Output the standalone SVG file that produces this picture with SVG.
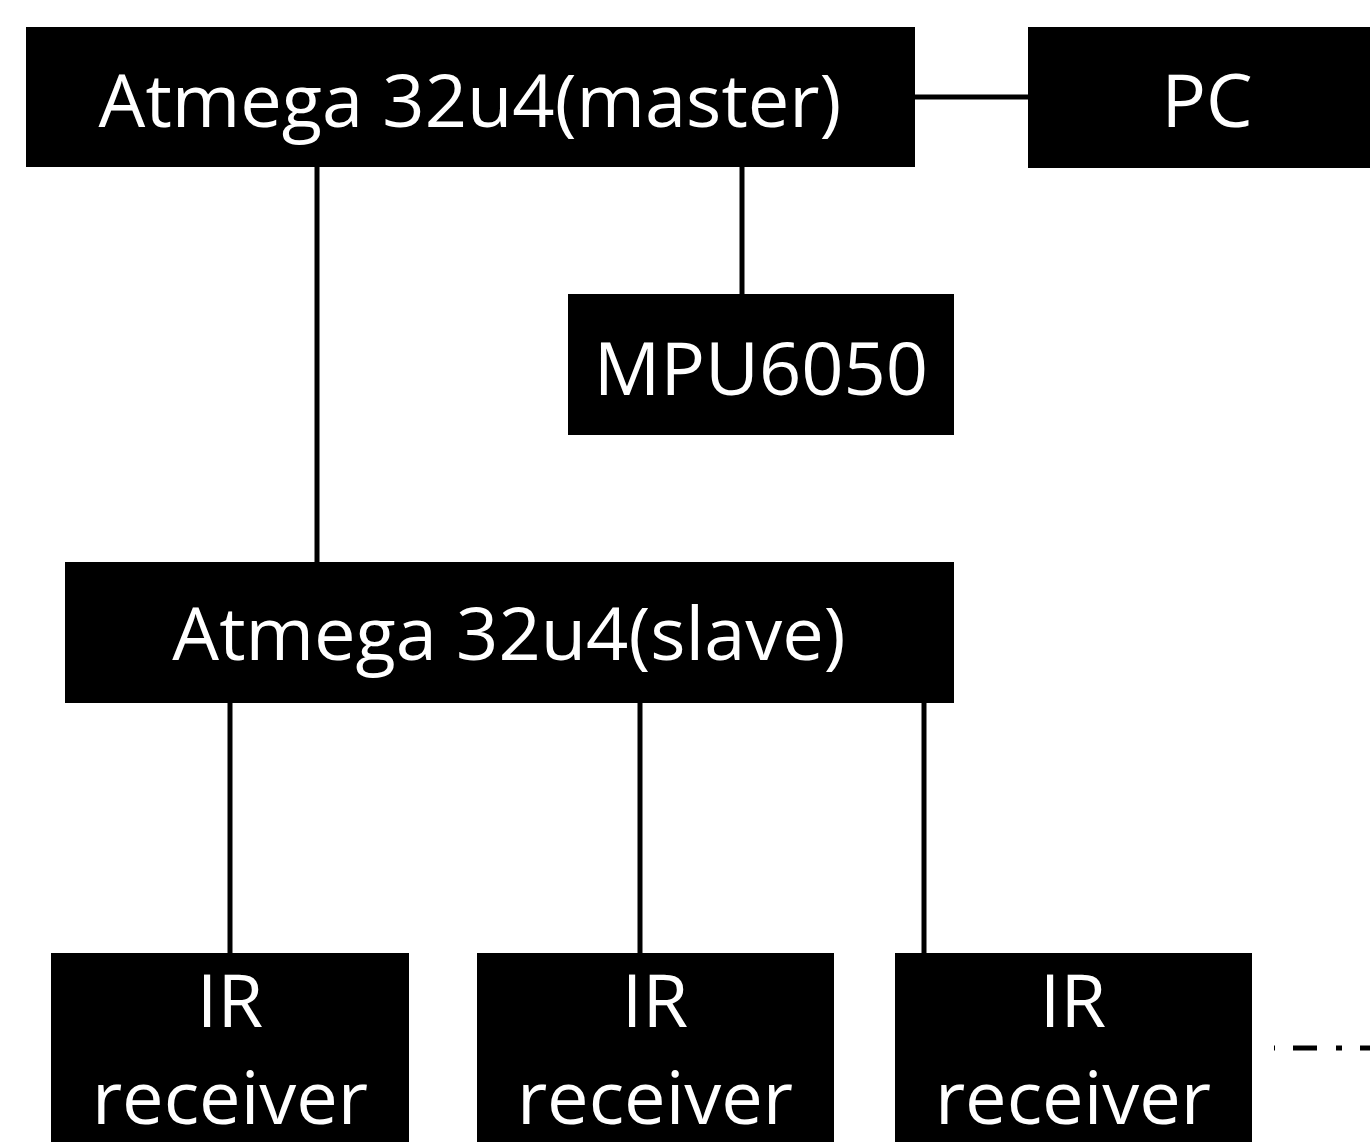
<svg xmlns="http://www.w3.org/2000/svg" width="1370" height="1143" viewBox="0 0 1370 1143">
<style>
.box{fill:#000}
.t{fill:#fff;font-family:"Open Sans","Noto Sans","Liberation Sans",sans-serif;font-size:74px;text-anchor:middle}
.c{stroke:#000;stroke-width:5;fill:none}
</style>
<rect width="1370" height="1143" fill="#fff"/>
<g id="connectors">
<line class="c" x1="915" y1="97" x2="1028" y2="97"/>
<line class="c" x1="742" y1="167" x2="742" y2="294"/>
<line class="c" x1="317" y1="167" x2="317" y2="562"/>
<line class="c" x1="230" y1="703" x2="230" y2="953"/>
<line class="c" x1="640" y1="703" x2="640" y2="953"/>
<line class="c" x1="924" y1="703" x2="924" y2="953"/>
<line class="c" x1="1274" y1="1048" x2="1370" y2="1048" stroke-dasharray="6 18 24 19" stroke-dashoffset="5"/>
</g>
<g id="master"><rect class="box" x="26" y="27" width="889" height="140"/><text class="t" x="470" y="127">Atmega 32u4(master)</text></g>
<g id="pc"><rect class="box" x="1028" y="27" width="342" height="141"/><text class="t" x="1207" y="127">PC</text></g>
<g id="mpu"><rect class="box" x="568" y="294" width="386" height="141"/><text class="t" x="761" y="395">MPU6050</text></g>
<g id="slave"><rect class="box" x="65" y="562" width="889" height="141"/><text class="t" x="509" y="660">Atmega 32u4(slave)</text></g>
<g id="ir1"><rect class="box" x="51" y="953" width="358" height="189"/><text class="t" x="230" y="1027">IR</text><text class="t" x="230" y="1124">receiver</text></g>
<g id="ir2"><rect class="box" x="477" y="953" width="357" height="189"/><text class="t" x="655" y="1027">IR</text><text class="t" x="655" y="1124">receiver</text></g>
<g id="ir3"><rect class="box" x="895" y="953" width="357" height="189"/><text class="t" x="1073" y="1027">IR</text><text class="t" x="1073" y="1124">receiver</text></g>
</svg>
